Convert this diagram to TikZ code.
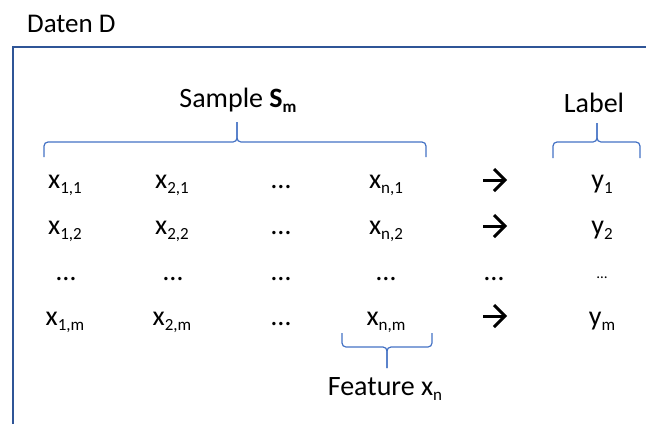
\documentclass[tikz,border=0pt]{standalone}
\usepackage{fontspec}
\setmainfont{Carlito}
\usetikzlibrary{calc}
\definecolor{framec}{HTML}{2F5597}
\definecolor{bracec}{HTML}{4472C4}
% lowered, smaller index text
\newcommand\lo[1]{\raisebox{-5pt}{\fontsize{17}{17}\selectfont #1}}
\tikzset{
  cell/.style={anchor=base, inner sep=0pt, font=\fontsize{28}{30}\selectfont},
  smalldots/.style={anchor=base, inner sep=0pt, font=\fontsize{15}{16}\selectfont},
  title/.style={anchor=base west, inner sep=0pt, font=\fontsize{27}{29}\selectfont},
  frameline/.style={draw=framec, line width=2.7pt},
  brace/.style={draw=bracec, line width=1.2pt, rounded corners=4pt},
  maparrow/.style={draw=black, line width=3pt, line cap=butt, line join=miter},
}
\begin{document}
\begin{tikzpicture}[x=1pt, y=-1pt]
\useasboundingbox (0,0) rectangle (646,424);

% frame of the data set
\node[title] (title) at (27,32) {Daten D};
\draw[frameline] (13,424) -- (13,47) -- (646,47);

% headings
\node[cell] (sample) at (238,107) {Sample \textbf{S}\lo{\bfseries m}};
\node[cell] (label) at (594,112) {Label};

% braces
\draw[brace] (44,157) |- (237,142) -- (237,122);
\draw[brace] (426,157) |- (237,142) -- (237,122);
\draw[brace] (553,158) |- (597,142) -- (597,123);
\draw[brace] (640,158) |- (597,142) -- (597,123);
\draw[brace] (342,333) |- (387,347) -- (387,368);
\draw[brace] (432,333) |- (387,347) -- (387,368);

% row 1
\node[cell] (x11) at (65,188) {x\lo{1,1}};
\node[cell] (x21) at (172,188) {x\lo{2,1}};
\node[cell] (d31) at (281,188) {…};
\node[cell] (xn1) at (386,188) {x\lo{n,1}};
\node[cell] (y1)  at (602,188) {y\lo{1}};
% row 2
\node[cell] (x12) at (65,234) {x\lo{1,2}};
\node[cell] (x22) at (172,234) {x\lo{2,2}};
\node[cell] (d32) at (281,234) {…};
\node[cell] (xn2) at (386,234) {x\lo{n,2}};
\node[cell] (y2)  at (602,234) {y\lo{2}};
% row 3
\node[cell] (d13) at (66,280) {…};
\node[cell] (d23) at (173,280) {…};
\node[cell] (d33) at (281,280) {…};
\node[cell] (dn3) at (386,280) {…};
\node[cell] (da3) at (494,280) {…};
\node[smalldots] (dy3) at (602,278) {…};
% row 4
\node[cell] (x1m) at (65,325) {x\lo{1,m}};
\node[cell] (x2m) at (172,325) {x\lo{2,m}};
\node[cell] (d3m) at (281,325) {…};
\node[cell] (xnm) at (386,325) {x\lo{n,m}};
\node[cell] (ym)  at (602,325) {y\lo{m}};

% mapping arrows
\foreach \r/\yy in {1/180, 2/226, m/316} {
  \coordinate (as\r) at (483,\yy);
  \coordinate (ae\r) at (505,\yy);
  \draw[maparrow] (as\r) -- (ae\r);
  \draw[maparrow] ($(ae\r)+(-11,-11)$) -- (ae\r) -- ($(ae\r)+(-11,11)$);
}

% feature caption
\node[cell] (feature) at (385,395) {Feature x\lo{n}};
\end{tikzpicture}
\end{document}
